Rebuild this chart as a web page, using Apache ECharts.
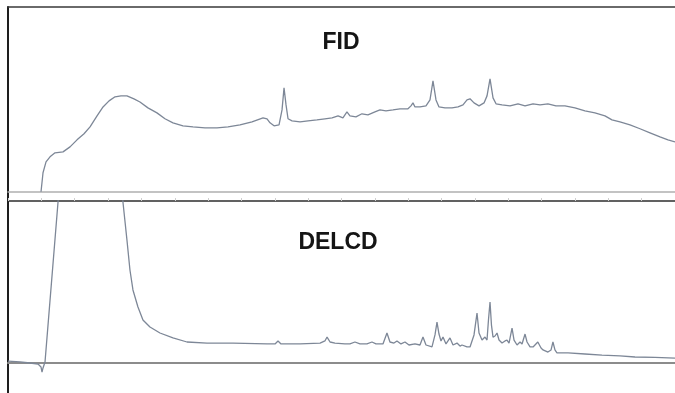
<!DOCTYPE html>
<html>
<head>
<meta charset="utf-8">
<title>FID / DELCD</title>
<script src="https://cdn.jsdelivr.net/npm/echarts@6/dist/echarts.min.js"></script>
<style>
  html, body { margin: 0; padding: 0; background: #fff; }
  #chart { width: 675px; height: 393px; }
</style>
</head>
<body>
<div id="chart"></div>
<script>
// retention time (min) vs detector response
const fidTrace = [
  [2.97, 0], [3.15, 10.3], [3.42, 16.2], [3.78, 18.9], [4.23, 21.1], [4.95, 21.6],
  [5.58, 24.3], [6.21, 28.1], [6.84, 31.4], [7.38, 35.1], [8.01, 41.1], [8.55, 45.9],
  [9.09, 49.2], [9.63, 51.4], [10.16, 51.9], [10.70, 51.9], [11.33, 50.3], [11.87, 48.6],
  [12.59, 45.4], [13.40, 42.7], [14.12, 39.5], [14.84, 37.3], [15.74, 35.7], [16.64, 35.1],
  [17.72, 34.6], [18.80, 34.6], [19.79, 35.1], [20.87, 36.2], [21.95, 37.8], [22.94, 40.0],
  [23.30, 39.5], [23.57, 37.3], [23.93, 35.7], [24.38, 36.2], [24.65, 44.3], [24.83, 56.2],
  [25.01, 47.0], [25.19, 39.5], [25.55, 38.4], [26.27, 37.8], [26.99, 38.4], [27.79, 38.9],
  [28.51, 39.5], [29.15, 40.0], [29.69, 41.1], [30.13, 40.0], [30.49, 43.2], [30.76, 41.1],
  [31.30, 40.5], [31.84, 42.2], [32.38, 41.6], [33.01, 43.2], [33.46, 44.3], [34.00, 43.8],
  [34.63, 44.3], [35.26, 44.9], [35.98, 44.9], [36.25, 46.5], [36.43, 48.1], [36.61, 45.9],
  [37.06, 45.9], [37.60, 46.5], [37.96, 49.7], [38.23, 60.0], [38.50, 49.7], [38.77, 45.9],
  [39.31, 45.4], [39.94, 45.4], [40.48, 45.9], [40.93, 47.0], [41.29, 49.7], [41.56, 50.3],
  [41.92, 48.1], [42.37, 46.5], [42.82, 48.1], [43.09, 51.9], [43.36, 61.1], [43.63, 50.8],
  [43.90, 47.6], [44.44, 47.0], [45.16, 46.5], [45.88, 47.6], [46.51, 46.5], [47.23, 47.6],
  [47.86, 47.0], [48.57, 47.6], [49.29, 46.5], [50.10, 46.5], [51.00, 45.4], [51.90, 43.8],
  [52.80, 42.7], [53.70, 41.1], [54.33, 38.9], [55.05, 37.8], [55.95, 36.2], [56.85, 34.1],
  [57.75, 31.9], [58.65, 29.7], [59.37, 28.1], [60.0, 27.0]
]

const delcdTrace = [
  [0, 1.3], [1.08, 0.7], [1.98, 0], [2.70, -0.7], [2.97, -2.7], [3.06, -6], [3.15, -3.3],
  [3.33, 0.7], [4.50, 107.3], [4.68, 124], [5.0, 145], [10.1, 145], [10.34, 107.3],
  [10.70, 82], [10.97, 62], [11.24, 48.7], [11.69, 37.3], [12.14, 28.7], [12.77, 24],
  [13.67, 20], [14.84, 16.7], [16.10, 14], [17.90, 13.3], [20.24, 13.3], [23.30, 12.7],
  [24.02, 12.7], [24.29, 14.7], [24.56, 12.7], [26.27, 12.7], [28.07, 13.3], [28.51, 14.7],
  [28.70, 17.3], [28.97, 14], [29.41, 13.3], [30.31, 12.7], [30.76, 12.7], [31.21, 14.0],
  [31.66, 12.7], [32.29, 12.7], [32.74, 14.0], [33.10, 12.7], [33.73, 12.7], [34.09, 20.0],
  [34.36, 14.0], [34.72, 13.3], [34.99, 14.7], [35.35, 12.7], [35.71, 14.0], [36.07, 12.0],
  [36.61, 12.7], [37.06, 12.0], [37.33, 17.3], [37.60, 12.0], [38.14, 10.7], [38.41, 18.7],
  [38.59, 27.3], [38.77, 19.3], [38.95, 14.7], [39.13, 17.3], [39.40, 12.7], [39.76, 16.7],
  [40.03, 12.0], [40.39, 13.3], [40.66, 11.3], [40.84, 12.0], [41.29, 10.7], [41.56, 10.7],
  [41.92, 18.7], [42.19, 33.3], [42.37, 20.0], [42.64, 15.3], [42.91, 17.3], [43.09, 15.3],
  [43.22, 28.7], [43.36, 40.7], [43.49, 25.3], [43.63, 17.3], [43.81, 18.0], [43.99, 20.0],
  [44.17, 15.3], [44.44, 13.3], [44.71, 14.7], [44.89, 15.3], [45.07, 13.3], [45.34, 23.3],
  [45.52, 15.3], [45.79, 12.0], [46.06, 14.0], [46.24, 12.7], [46.51, 19.3], [46.69, 14.0],
  [46.96, 10.7], [47.23, 10.7], [47.66, 14.0], [47.95, 10.0], [48.13, 8.7], [48.57, 7.3],
  [48.85, 8.7], [49.02, 14.0], [49.20, 8.7], [49.38, 6.7], [50.38, 6.7], [51.90, 6.0],
  [53.43, 5.3], [55.05, 4.7], [56.40, 4.0], [58.20, 3.7], [60.0, 3.3]
]

const detectorNames = ['FID', 'DELCD']

const traceColor = '#7d8797'
const titleFont = {
  fontFamily: 'Liberation Sans, Arial, sans-serif',
  fontWeight: 'bold',
  fontSize: 23,
  color: '#151515'
}

function hiddenAxisParts () {
  return {
    axisLabel: { show: false },
    axisTick: { show: false },
    splitLine: { show: false }
  }
}

const option = {
  backgroundColor: '#fff',
  animation: false,
  title: [
    { text: detectorNames[0], left: 336, top: 26, textAlign: 'center', textStyle: titleFont },
    { text: detectorNames[1], left: 333, top: 226, textAlign: 'center', textStyle: titleFont }
  ],
  grid: [
    { left: 8, right: 0, top: 7, bottom: 192 },
    { left: 8, right: 0, top: 201, bottom: 0 }
  ],
  xAxis: [
    // FID baseline
    Object.assign({
      type: 'value', gridIndex: 0, min: 0, max: 60, position: 'bottom',
      axisLine: { show: true, onZero: true, lineStyle: { color: '#b0b0b0', width: 1.5 } }
    }, hiddenAxisParts()),
    // frame top
    Object.assign({
      type: 'value', gridIndex: 0, min: 0, max: 60, position: 'top',
      axisLine: { show: true, onZero: false, lineStyle: { color: '#3a3a3a', width: 1.5 } }
    }, hiddenAxisParts()),
    // DELCD baseline
    Object.assign({
      type: 'value', gridIndex: 1, min: 0, max: 60, position: 'bottom',
      axisLine: { show: true, onZero: true, lineStyle: { color: '#8c8c8c', width: 2 } }
    }, hiddenAxisParts()),
    // separator between the two detectors
    {
      type: 'value', gridIndex: 1, min: 0, max: 60, interval: 3, position: 'top',
      axisLine: { show: true, onZero: false, lineStyle: { color: '#2e2e2e', width: 1.5 } },
      axisTick: { show: true, length: 3, lineStyle: { color: '#cfcfcf' } },
      axisLabel: { show: false },
      splitLine: { show: false }
    }
  ],
  yAxis: [
    Object.assign({
      type: 'value', gridIndex: 0, min: -5, max: 100, position: 'left',
      axisLine: { show: true, onZero: false, lineStyle: { color: '#1e1e1e', width: 2 } }
    }, hiddenAxisParts()),
    Object.assign({
      type: 'value', gridIndex: 1, min: -20, max: 108, position: 'left',
      axisLine: { show: true, onZero: false, lineStyle: { color: '#1e1e1e', width: 2 } }
    }, hiddenAxisParts())
  ],
  series: [
    {
      name: detectorNames[0],
      type: 'line',
      xAxisIndex: 0,
      yAxisIndex: 0,
      data: fidTrace,
      symbol: 'none',
      clip: true,
      lineStyle: { color: traceColor, width: 1.3 }
    },
    {
      name: detectorNames[1],
      type: 'line',
      xAxisIndex: 2,
      yAxisIndex: 1,
      data: delcdTrace,
      symbol: 'none',
      clip: true,
      lineStyle: { color: traceColor, width: 1.3 }
    }
  ]
}

const chart = echarts.init(document.getElementById('chart'))
chart.setOption(option)
</script>
</body>
</html>
